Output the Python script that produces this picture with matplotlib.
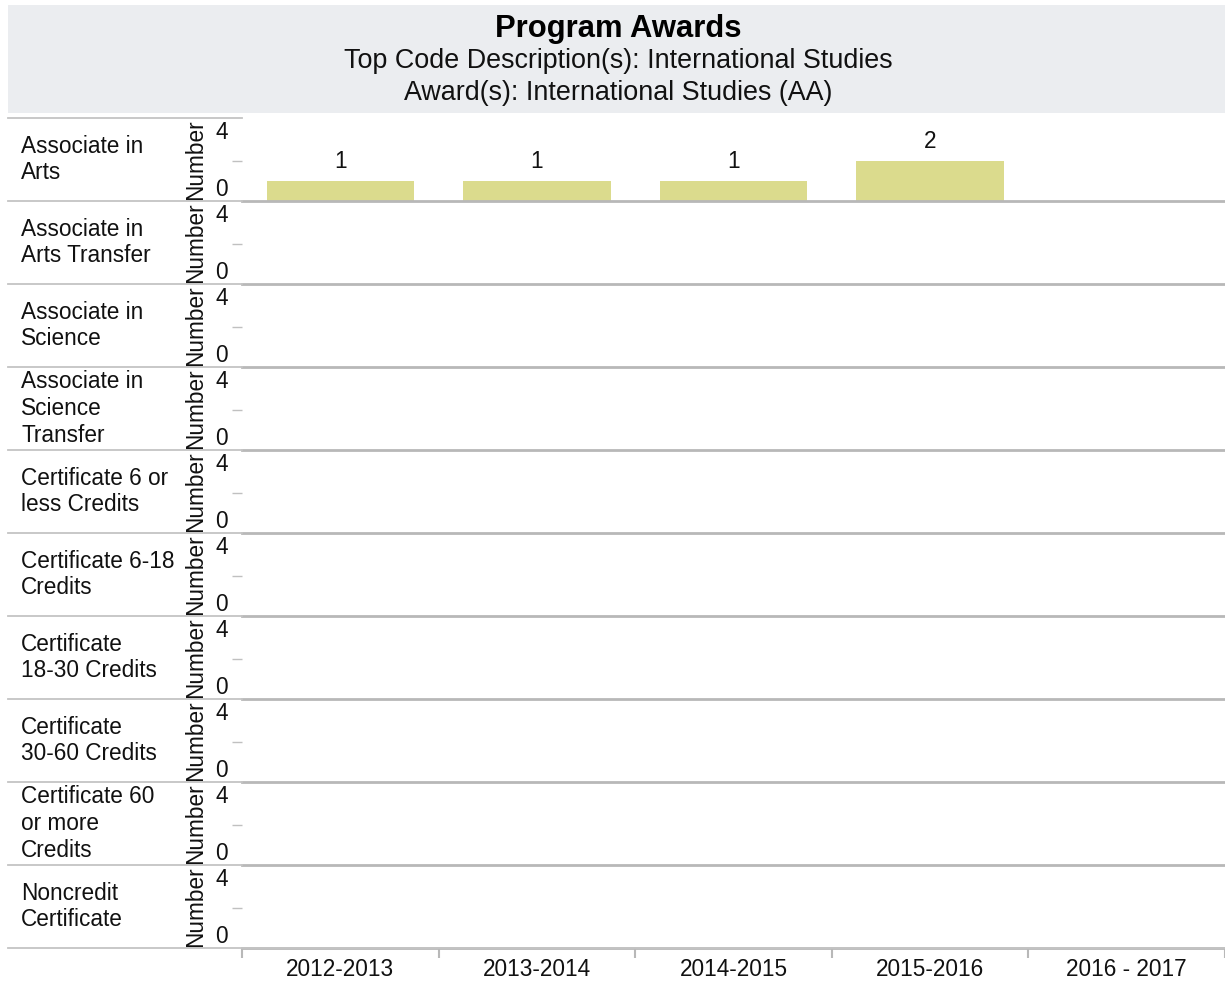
import matplotlib
matplotlib.use("Agg")
import matplotlib.pyplot as plt
from matplotlib.patches import Rectangle
from matplotlib.lines import Line2D
import numpy as np

plt.rcParams['font.family'] = ['Liberation Sans', 'DejaVu Sans']

# ---- data ----
title = "Program Awards"
subtitle1 = "Top Code Description(s): International Studies"
subtitle2 = "Award(s): International Studies (AA)"
years = ["2012-2013", "2013-2014", "2014-2015", "2015-2016", "2016 - 2017"]
award_types = ["Associate in\nArts", "Associate in\nArts Transfer", "Associate in\nScience",
               "Associate in\nScience\nTransfer", "Certificate 6 or\nless Credits",
               "Certificate 6-18\nCredits", "Certificate\n18-30 Credits",
               "Certificate\n30-60 Credits", "Certificate 60\nor more\nCredits",
               "Noncredit\nCertificate"]
# values per award type (None = no awards)
counts = {
    "Associate in\nArts": [1, 1, 1, 2, None],
}
y_ticks = [0, 4]
y_ticklabels = ["0", "4"]
y_label = "Number"

# ---- layout (pixels) ----
W, H = 1225, 984
fig = plt.figure(figsize=(W / 100, H / 100), dpi=100)
fig.patch.set_facecolor("white")

def fx(px):
    return px / W

def fy(py):
    return 1 - py / H

# header band
fig.patches.append(Rectangle((fx(8), fy(113)), fx(1225) - fx(8), fy(5) - fy(113),
                             transform=fig.transFigure, facecolor="#ebedf0",
                             edgecolor="none", zorder=0))
fig.text(fx(618), fy(29), title, ha="center", va="center", fontsize=22.3,
         fontweight="bold", color="black")
fig.text(fx(618), fy(61), subtitle1, ha="center", va="center", fontsize=19.4, color="#111111")
fig.text(fx(618), fy(93), subtitle2, ha="center", va="center", fontsize=19.4, color="#111111")

top = 118
row_h = 83
left = 242
right = 1225
bar_color = "#dbdb8d"
line_gray = "#c4c4c4"
n = len(award_types)
x = np.arange(len(years))

# left-area separator lines
for i in range(n + 1):
    yy = top + i * row_h
    x_end = right if i == n else left
    fig.add_artist(Line2D([fx(8), fx(x_end)], [fy(yy), fy(yy)], transform=fig.transFigure,
                          color=line_gray, lw=1.3))

for i, name in enumerate(award_types):
    y0 = top + (i + 1) * row_h
    ax = fig.add_axes([fx(left), fy(y0), fx(right) - fx(left), row_h / H])
    ax.set_facecolor("none")
    vals = counts.get(name, [None] * len(years))
    hv = [v if v is not None else 0 for v in vals]
    bars = ax.bar(x, hv, width=0.75, color=bar_color, edgecolor="none")
    labels = [str(v) if v is not None else "" for v in vals]
    ax.bar_label(bars, labels=labels, padding=6, fontsize=16.3, color="#111111")
    ax.set_xlim(-0.5, len(years) - 0.5)
    ax.set_ylim(0, 4.15)
    for s in ["top", "left", "right"]:
        ax.spines[s].set_visible(False)
    ax.spines["bottom"].set_color("#b8b8b8")
    ax.spines["bottom"].set_linewidth(2)
    ax.set_yticks(y_ticks)
    ax.set_yticklabels(y_ticklabels, fontsize=16.3, color="#111111")
    ax.set_yticks([2], minor=True)
    ax.tick_params(axis="y", which="major", length=0, pad=10)
    ax.tick_params(axis="y", which="minor", length=7, color="#c0c0c0", width=1)
    tl = ax.get_yticklabels()
    tl[0].set_va("bottom")
    tl[1].set_va("top")
    ax.set_ylabel(y_label, fontsize=16.3, color="#111111")
    ax.yaxis.set_label_coords(-0.0355, 0.5)
    if i == n - 1:
        ax.set_xticks(x)
        ax.set_xticklabels(years, fontsize=16.3, color="#111111")
        ax.set_xticks(np.arange(-0.5, len(years) + 0.5, 1), minor=True)
        ax.tick_params(axis="x", which="major", length=0, pad=7.5)
        ax.tick_params(axis="x", which="minor", length=7, color="#b8b8b8", width=1.5)
    else:
        ax.set_xticks([])
    # row label
    fig.text(fx(21), fy(top + i * row_h + row_h / 2), name, ha="left", va="center",
             fontsize=16.3, color="#111111", linespacing=1.2)

fig.savefig("out.png", dpi=100)
